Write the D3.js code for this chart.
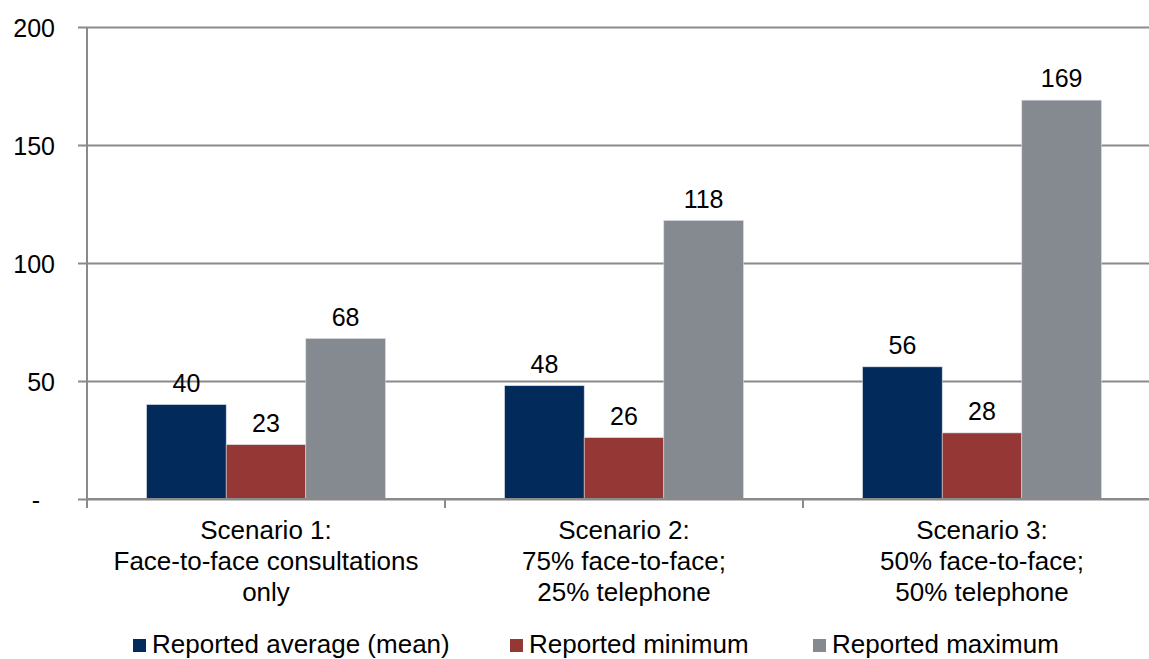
<!DOCTYPE html>
<html>
<head>
<meta charset="utf-8">
<script src="https://cdn.jsdelivr.net/npm/d3@7"></script>
<style>
  html, body { margin: 0; padding: 0; background: #fff; }
  svg { display: block; font-family: "Liberation Sans", Arial, sans-serif; }
</style>
</head>
<body>
<svg id="chart" width="1149" height="659"></svg>
<script>
// Consultation scenarios and the reported figures for each
const scenarios = ["Scenario 1", "Scenario 2", "Scenario 3"];
const scenarioLabels = [
  ["Scenario 1:", "Face-to-face consultations", "only"],
  ["Scenario 2:", "75% face-to-face;", "25% telephone"],
  ["Scenario 3:", "50% face-to-face;", "50% telephone"]
];
const seriesNames = ["Reported average (mean)", "Reported minimum", "Reported maximum"];
const meanValues = [40, 48, 56];
const minValues = [23, 26, 28];
const maxValues = [68, 118, 169];
const yTicks = [0, 50, 100, 150, 200];
const yTickLabels = ["-", "50", "100", "150", "200"];
const seriesColors = ["#022b5b", "#943735", "#858a91"];

const seriesValues = [meanValues, minValues, maxValues];
const rows = scenarios.map((s, i) => ({
  scenario: s,
  values: seriesNames.map((name, k) => ({ key: name, value: seriesValues[k][i], color: seriesColors[k] }))
}));

const svg = d3.select("#chart");
const plotLeft = 87, plotRight = 1161, plotTop = 27, plotBottom = 499;

const x = d3.scaleBand().domain(scenarios).range([plotLeft, plotRight]).paddingInner(0).paddingOuter(0);
const groupPad = 0.333;
const xInner = d3.scaleBand().domain(seriesNames)
  .range([x.bandwidth() * groupPad / 2, x.bandwidth() * (1 - groupPad / 2)]).padding(0);
const y = d3.scaleLinear().domain([0, 200]).range([plotBottom, plotTop]);

// Horizontal gridlines and y-axis labels
const yAxis = d3.axisLeft(y).tickValues(yTicks)
  .tickFormat((d, i) => yTickLabels[i]).tickSize(-(1149 - plotLeft)).tickPadding(0);
const yg = svg.append("g").attr("transform", `translate(${plotLeft},0)`).call(yAxis);
yg.select(".domain").remove();
yg.selectAll(".tick line").attr("stroke", "#8a8a8a").attr("stroke-width", 2).attr("x1", -9);
yg.selectAll(".tick text").attr("x", d => d === 0 ? -47 : -32)
  .attr("font-size", 25).attr("fill", "#000").attr("dy", "0.36em");

// Vertical axis line
svg.append("line").attr("x1", plotLeft).attr("x2", plotLeft).attr("y1", y(200)).attr("y2", plotBottom + 9)
  .attr("stroke", "#8a8a8a").attr("stroke-width", 2);

// Bars
const groups = svg.append("g").selectAll("g").data(rows).join("g")
  .attr("transform", d => `translate(${x(d.scenario)},0)`);
groups.selectAll("rect").data(d => d.values).join("rect")
  .attr("x", d => xInner(d.key))
  .attr("y", d => y(d.value))
  .attr("width", xInner.bandwidth())
  .attr("height", d => plotBottom - y(d.value))
  .attr("fill", d => d.color)
  .attr("stroke", "#d5dae2").attr("stroke-width", 0.6);

// Value labels above bars
groups.selectAll("text").data(d => d.values).join("text")
  .attr("x", d => xInner(d.key) + xInner.bandwidth() / 2)
  .attr("y", d => y(d.value) - 13)
  .attr("text-anchor", "middle").attr("font-size", 25).attr("fill", "#000")
  .text(d => d.value);

// Category axis with tick marks between groups
const xAxis = svg.append("g");
xAxis.append("line").attr("x1", plotLeft).attr("x2", 1149).attr("y1", plotBottom).attr("y2", plotBottom)
  .attr("stroke", "#8a8a8a").attr("stroke-width", 2);
xAxis.selectAll("line.tk").data(scenarios.concat(["end"])).join("line").attr("class", "tk")
  .attr("x1", (d, i) => plotLeft + i * x.bandwidth()).attr("x2", (d, i) => plotLeft + i * x.bandwidth())
  .attr("y1", plotBottom).attr("y2", plotBottom + 9)
  .attr("stroke", "#8a8a8a").attr("stroke-width", 2);

const catText = xAxis.selectAll("text.cat").data(scenarios).join("text").attr("class", "cat")
  .attr("text-anchor", "middle").attr("font-size", 26).attr("fill", "#000");
catText.each(function(d, i) {
  const t = d3.select(this);
  scenarioLabels[i].forEach((line, j) => {
    t.append("tspan").attr("x", x(d) + x.bandwidth() / 2).attr("y", 539 + j * 31).text(line);
  });
});

// Legend
const legendX = [133, 510, 813];
const legend = svg.append("g").selectAll("g").data(seriesNames).join("g")
  .attr("transform", (d, i) => `translate(${legendX[i]},639)`);
legend.append("rect").attr("width", 13).attr("height", 13).attr("fill", (d, i) => seriesColors[i]);
legend.append("text").attr("x", 19).attr("y", 14).attr("font-size", 26).attr("fill", "#000")
  .text(d => d);
</script>
</body>
</html>
